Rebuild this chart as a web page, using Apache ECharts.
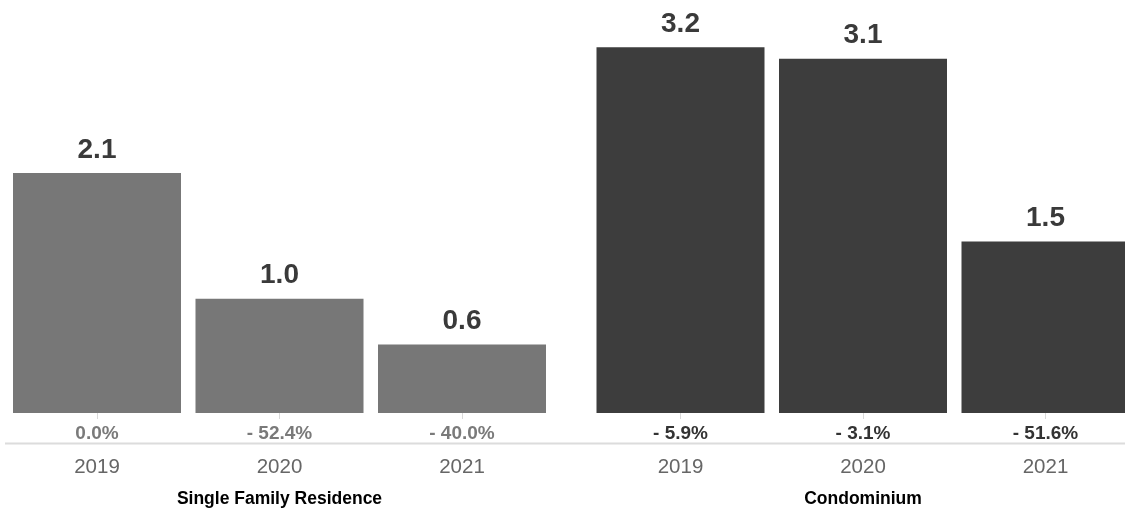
<!DOCTYPE html>
<html>
<head>
<meta charset="utf-8">
<script src="https://cdn.jsdelivr.net/npm/echarts@6/dist/echarts.min.js"></script>
<style>
  html, body { margin: 0; padding: 0; background: #fff; }
  #chart { width: 1125px; height: 509px; }
</style>
</head>
<body>
<div id="chart"></div>
<script>
// Years on each group's axis
const years = ['2019', '2020', '2021'];

// Median value per year (bar heights)
const singleFamilyValues = [2.1, 1.0, 0.6];
const condoValues = [3.2, 3.1, 1.5];

// Year-over-year change shown under each bar
const singleFamilyChange = ['0.0%', '- 52.4%', '- 40.0%'];
const condoChange = ['- 5.9%', '- 3.1%', '- 51.6%'];

// Group titles
const groupNames = ['Single Family Residence', 'Condominium'];

const FONT = '"Liberation Sans", Arial, Helvetica, sans-serif';
const groups = [
  { values: singleFamilyValues, change: singleFamilyChange, color: '#777777', changeColor: '#7a7a7a' },
  { values: condoValues, change: condoChange, color: '#3d3d3d', changeColor: '#333333' }
];

// each grid spans from its first bar centre to its last bar centre
const gridLefts = [97, 680.5];
const grid = [], xAxis = [], yAxis = [], series = [];

groups.forEach((g, i) => {
  grid.push({
    left: gridLefts[i], width: 365, top: 13, bottom: 96,
    containLabel: false, outerBoundsMode: 'none'
  });
  // year axis, pushed below the change labels
  xAxis.push({
    type: 'category', gridIndex: i, data: years, position: 'bottom', offset: 31,
    boundaryGap: false,
    axisLine: { show: false },
    axisTick: { show: true, length: 6, lineStyle: { color: '#d9d9d9', width: 1 } },
    axisLabel: { color: '#666666', fontSize: 20.5, fontFamily: FONT, margin: 13 },
    name: groupNames[i], nameLocation: 'middle', nameGap: 46,
    nameTextStyle: { color: '#000000', fontSize: 17.5, fontWeight: 'bold', fontFamily: FONT }
  });
  // change labels just under the bars
  xAxis.push({
    type: 'category', gridIndex: i, data: g.change, position: 'bottom', offset: 0,
    boundaryGap: false,
    axisLine: { show: false }, axisTick: { show: false },
    axisLabel: { color: g.changeColor, fontSize: 19, fontWeight: 'bold', fontFamily: FONT, margin: 11 }
  });
  yAxis.push({
    type: 'value', gridIndex: i, min: 0, max: 3.5, show: false,
    splitLine: { show: false }
  });
  series.push({
    type: 'bar', xAxisIndex: i * 2, yAxisIndex: i, data: g.values,
    barWidth: 168, clip: false, itemStyle: { color: g.color },
    label: {
      show: true, position: 'top', distance: 9,
      formatter: p => p.value.toFixed(1),
      color: '#3a3a3a', fontSize: 28, fontWeight: 'bold', fontFamily: FONT
    },
    silent: true
  });
});

const chart = echarts.init(document.getElementById('chart'), null, { renderer: 'canvas' });
chart.setOption({
  animation: false,
  backgroundColor: '#ffffff',
  grid, xAxis, yAxis, series,
  graphic: [{
    // shared baseline rule running under both groups
    type: 'line', z: 0,
    shape: { x1: 5, y1: 443.5, x2: 1125, y2: 443.5 },
    style: { stroke: '#dcdcdc', lineWidth: 2 }
  }]
});
</script>
</body>
</html>
